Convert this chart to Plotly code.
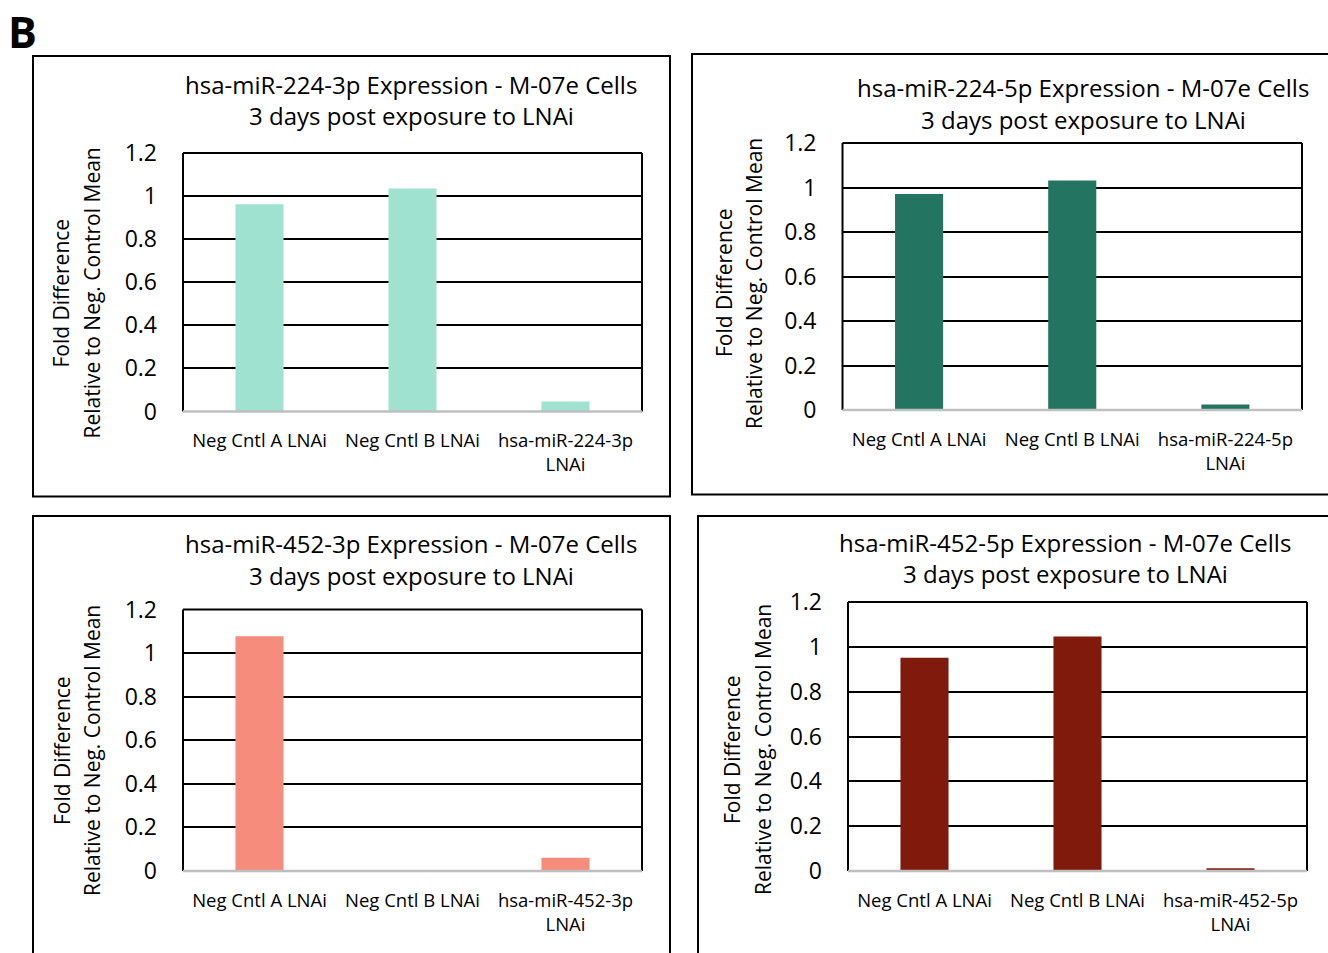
import plotly.graph_objects as go

W, H = 1328, 953
FONT = "Open Sans"

# Category labels for each panel
categories_224_3p = ["Neg Cntl A LNAi", "Neg Cntl B LNAi", "hsa-miR-224-3p<br>LNAi"]
categories_224_5p = ["Neg Cntl A LNAi", "Neg Cntl B LNAi", "hsa-miR-224-5p<br>LNAi"]
categories_452_3p = ["Neg Cntl A LNAi", "Neg Cntl B LNAi", "hsa-miR-452-3p<br>LNAi"]
categories_452_5p = ["Neg Cntl A LNAi", "Neg Cntl B LNAi", "hsa-miR-452-5p<br>LNAi"]

# Fold difference relative to the negative control mean
values_224_3p = [0.962, 1.035, 0.046]
values_224_5p = [0.971, 1.031, 0.025]
values_452_3p = [1.077, None, 0.061]
values_452_5p = [0.951, 1.046, 0.012]

titles = [
    "hsa-miR-224-3p Expression - M-07e Cells",
    "hsa-miR-224-5p Expression - M-07e Cells",
    "hsa-miR-452-3p Expression - M-07e Cells",
    "hsa-miR-452-5p Expression - M-07e Cells",
]
subtitle = "3 days post exposure to LNAi"
y_title_lines = ["Fold Difference", "Relative to Neg. Control Mean"]
y_ticks = [0, 0.2, 0.4, 0.6, 0.8, 1.0, 1.2]
y_tick_text = ["0", "0.2", "0.4", "0.6", "0.8", "1", "1.2"]

colors = ["#A0E2D0", "#237460", "#F68C7C", "#7F1A0C"]

# Layout geometry in page pixels
panels = [
    dict(cats=categories_224_3p, vals=values_224_3p,
         plot=(183, 642, 153, 411.5), box=(33, 670, 56, 496.5),
         title_x=411, title_y=(84, 116), ytitle=(61, 92, 293.5)),
    dict(cats=categories_224_5p, vals=values_224_5p,
         plot=(842.5, 1302, 143, 410), box=(692, 1340, 54, 494.5),
         title_x=1083, title_y=(88, 120), ytitle=(724, 754, 283)),
    dict(cats=categories_452_3p, vals=values_452_3p,
         plot=(183, 642, 609.5, 871), box=(33, 670, 516, 970),
         title_x=411, title_y=(543, 575), ytitle=(62, 92, 751)),
    dict(cats=categories_452_5p, vals=values_452_5p,
         plot=(848, 1307, 602, 871), box=(698, 1340, 516, 970),
         title_x=1065, title_y=(542, 573), ytitle=(732, 763, 750)),
]


def fx(v):
    return v / W


def fy(v):
    return 1 - v / H


fig = go.Figure()
shapes = []
annotations = []

for i, p in enumerate(panels, start=1):
    suffix = "" if i == 1 else str(i)
    x0, x1, y0, y1 = p["plot"]
    fig.add_trace(go.Bar(
        x=p["cats"], y=p["vals"],
        marker=dict(color=colors[i - 1], line=dict(width=0)),
        xaxis="x" + suffix, yaxis="y" + suffix,
        showlegend=False, hoverinfo="x+y",
    ))
    fig.update_layout({
        "xaxis" + suffix: dict(
            domain=[fx(x0), fx(x1)], anchor="y" + suffix,
            showgrid=False, showline=False, zeroline=False,
            tickangle=0, ticks="", ticklabelstandoff=16,
            automargin=False,
            tickfont=dict(family=FONT, size=18.5, color="#000000"),
            fixedrange=True,
        ),
        "yaxis" + suffix: dict(
            domain=[fy(y1), fy(y0)], anchor="x" + suffix,
            range=[0, 1.2], tickvals=y_ticks, ticktext=y_tick_text,
            showgrid=True, gridcolor="#000000", gridwidth=2,
            zeroline=False, showline=False, ticks="",
            ticklabelstandoff=25, automargin=False,
            tickfont=dict(family=FONT, size=23, color="#000000"),
            fixedrange=True,
        ),
    })

    # outer panel frame
    bx0, bx1, by0, by1 = p["box"]
    shapes.append(dict(type="rect", xref="paper", yref="paper",
                       x0=fx(bx0), x1=fx(bx1), y0=fy(by1), y1=fy(by0),
                       line=dict(color="#000000", width=2), layer="below"))
    # plot-area frame: black top and sides, grey baseline
    xd, yd = "x" + suffix + " domain", "y" + suffix + " domain"
    for (a0, b0, a1, b1) in [(0, 0, 0, 1), (1, 0, 1, 1), (0, 1, 1, 1)]:
        shapes.append(dict(type="line", xref=xd, yref=yd,
                           x0=a0, y0=b0, x1=a1, y1=b1,
                           line=dict(color="#000000", width=2)))
    shapes.append(dict(type="line", xref=xd, yref=yd, x0=0, y0=0, x1=1, y1=0,
                       line=dict(color="#BFBFBF", width=2.5)))

    # chart titles
    for text, ty in zip([titles[i - 1], subtitle], p["title_y"]):
        annotations.append(dict(text=text, xref="paper", yref="paper",
                                x=fx(p["title_x"]), y=fy(ty),
                                xanchor="center", yanchor="middle",
                                showarrow=False,
                                font=dict(family=FONT, size=24, color="#000000")))
    # rotated y-axis title lines
    lx1, lx2, ly = p["ytitle"]
    for text, lx in zip(y_title_lines, [lx1, lx2]):
        annotations.append(dict(text=text, xref="paper", yref="paper",
                                x=fx(lx), y=fy(ly), textangle=-90,
                                xanchor="center", yanchor="middle",
                                showarrow=False,
                                font=dict(family=FONT, size=21, color="#000000")))

annotations.append(dict(text="<b>B</b>", xref="paper", yref="paper",
                        x=fx(22), y=1.0, xanchor="center", yanchor="top",
                        showarrow=False,
                        font=dict(family=FONT, size=43, color="#000000")))

fig.update_layout(
    width=W, height=H,
    margin=dict(l=0, r=0, t=0, b=0),
    paper_bgcolor="#FFFFFF", plot_bgcolor="#FFFFFF",
    bargap=0.686,
    shapes=shapes, annotations=annotations,
    showlegend=False,
)

fig.write_html("out.html", config={"displayModeBar": False})
